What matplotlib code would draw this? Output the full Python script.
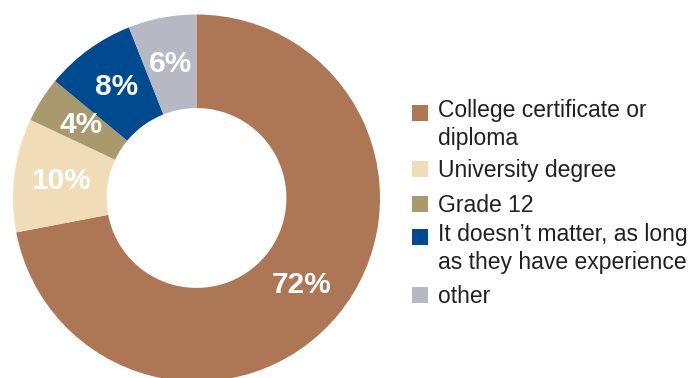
import matplotlib
matplotlib.use("Agg")
import matplotlib.pyplot as plt
from matplotlib.patches import Rectangle

# Data
labels = ['College certificate or\ndiploma', 'University degree', 'Grade 12',
          'It doesn\u2019t matter, as long\nas they have experience', 'other']
values = [72, 10, 4, 8, 6]
colors = ['#AD7755', '#F0DDB8', '#A89A6D', '#004A8F', '#B6B8C3']

plt.rcParams['font.family'] = ['Liberation Sans', 'DejaVu Sans']

W, H = 691, 378
fig = plt.figure(figsize=(W / 100, H / 100), dpi=100)

# donut, centre ~ (196.5, 198) px, outer radius ~183.5 px
cx, cy, r = 196.5, 198, 183.5
ax = fig.add_axes([(cx - r) / W, 1 - (cy + r) / H, 2 * r / W, 2 * r / H])
wedges, texts, autotexts = ax.pie(values, colors=colors, startangle=90, counterclock=False,
                                  radius=1, autopct='%.0f%%', pctdistance=0.745,
                                  wedgeprops=dict(width=0.51, linewidth=0),
                                  textprops=dict(color='white', fontsize=21.5, fontweight='bold'))
ax.set_xlim(-1, 1)
ax.set_ylim(-1, 1)
ax.set_aspect('equal')
ax.axis('off')

# legend drawn by hand (pixel positions of first-line baselines)
sq_x, txt_x, sq = 412, 438, 16
baselines = [121, 177, 212, 245, 303]
line_h = 24
for lab, col, yb in zip(labels, colors, baselines):
    fig.patches.append(Rectangle((sq_x / W, 1 - (yb - 0.5) / H), sq / W, 15.5 / H,
                                 transform=fig.transFigure, color=col, linewidth=0))
    n = lab.count('\n')
    fig.text(txt_x / W, 1 - (yb + n * line_h) / H, lab, fontsize=16.5, color='#231F20',
             va='baseline', ha='left', linespacing=1.26)

fig.savefig('out.png', dpi=100)
